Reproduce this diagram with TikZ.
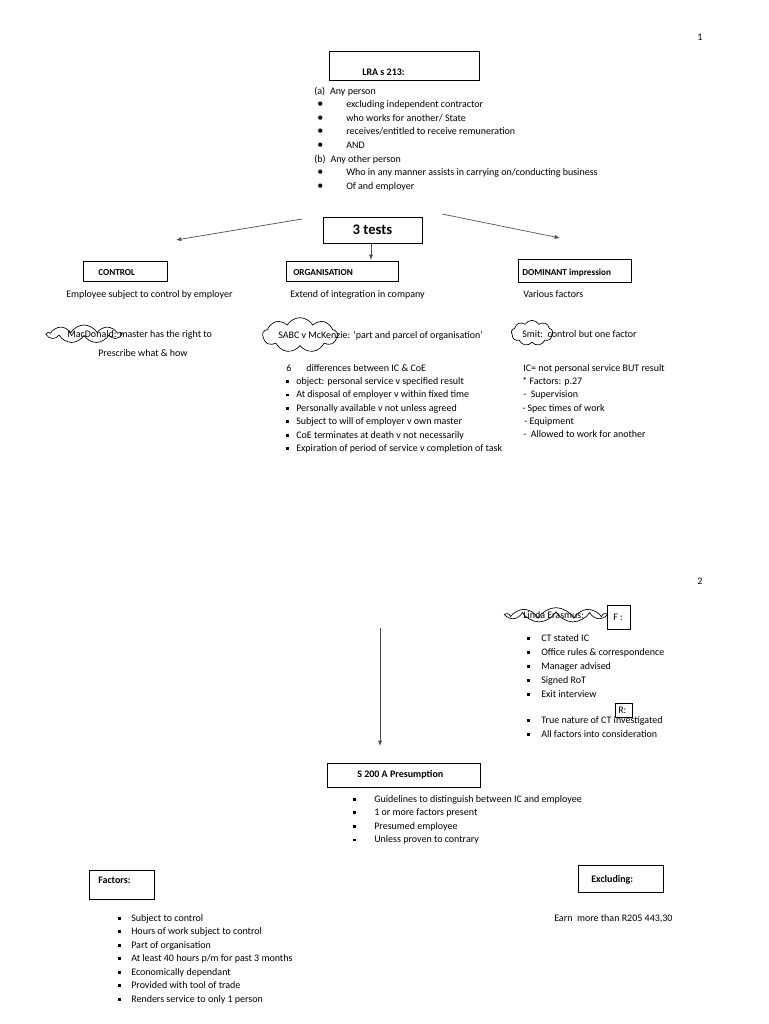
\documentclass[tikz,border=0pt]{standalone}
\usepackage{fontspec}
\setmainfont{Carlito}
\usetikzlibrary{shapes.symbols,arrows.meta}
\newcommand\sqbul{\rule[1.1pt]{2.1pt}{2.1pt}}
\begin{document}
\begin{tikzpicture}[x=0.75pt,y=-0.75pt,
  font=\fontsize{7.5}{9}\selectfont,
  txt/.style={anchor=base west, inner sep=0pt},
  hbox/.style={draw, line width=0.6pt, inner sep=0pt},
  arr/.style={draw=black!70, line width=0.5pt, -{Latex[length=4pt,width=3pt]}},
  cl/.style={cloud, draw, cloud puffs=9, cloud puff arc=120, cloud ignores aspect, inner sep=0pt, line width=0.5pt}
]
\useasboundingbox (0,0) rectangle (768,1024);
% page numbers
\node[txt] (p1) at (697,41) {1};
\node[txt] (p2) at (697,584) {2};

% LRA box
\node[hbox, minimum width=112.5pt, minimum height=21.75pt] (lra) at (404,65.5) {};
\node[txt, font=\fontsize{7.5}{9}\selectfont\bfseries] (lrat) at (362,75) {LRA s 213:};
\node[txt] (la) at (314,94) {(a)\enspace Any person};
\foreach \t [count=\i] in {excluding independent contractor, who works for another/ State, receives/entitled to receive remuneration, AND}{
  \node[txt, font=\fontsize{9}{9}\selectfont] (lb\i) at (317,94+13.5*\i) {•};
  \node[txt] (lt\i) at (346,94+13.5*\i) {\t};
}
\node[txt] (lbb) at (314,162) {(b)\enspace Any other person};
\foreach \t [count=\i] in {Who in any manner assists in carrying on/conducting business, Of and employer}{
  \node[txt, font=\fontsize{9}{9}\selectfont] (lc\i) at (317,162+13.5*\i) {•};
  \node[txt] (lct\i) at (346,162+13.5*\i) {\t};
}

% 3 tests
\node[hbox, minimum width=74.25pt, minimum height=19.5pt, font=\fontsize{11}{13}\selectfont\bfseries] (tests) at (372.5,230) {3 tests};
\coordinate (la1) at (302,219);
\coordinate (la2) at (176,240);
\coordinate (ra1) at (442,214);
\coordinate (ra2) at (560,238);
\draw[arr] (la1) -- (la2);
\draw[arr] (ra1) -- (ra2);

% test boxes
\node[hbox, minimum width=63pt, minimum height=15pt] (ctrl) at (125,271) {};
\node[txt, font=\fontsize{6.9}{9}\selectfont\bfseries] (ctrlt) at (98,275) {CONTROL};
\node[hbox, minimum width=84pt, minimum height=15pt] (org) at (342,271) {};
\node[txt, font=\fontsize{6.9}{9}\selectfont\bfseries] (orgt) at (293,275) {ORGANISATION};
\node[hbox, minimum width=84.75pt, minimum height=17.25pt] (dom) at (574.5,270.5) {};
\node[txt, font=\fontsize{6.9}{9}\selectfont\bfseries] (domt) at (522,275) {DOMINANT impression};
\coordinate (ca) at (371,243.5);
\coordinate (cb) at (371,260);
\draw[arr] (ca) -- (cb);

\node[txt] (e1) at (66,297) {Employee subject to control by employer};
\node[txt] (e2) at (290,297) {Extend of integration in company};
\node[txt] (e3) at (523,297) {Various factors};

% clouds line
\node[txt] (mac) at (67,337) {MacDonald: master has the right to};
\node[cl, minimum width=55pt, minimum height=13.5pt] (macc) at (84,334) {};
\node[txt] (pres) at (98,356) {Prescribe what \& how};
\node[txt] (sabc) at (278,338) {SABC v McKenzie: ‘part and parcel of organisation’};
\node[cl, minimum width=56pt, minimum height=26pt] (sabcc) at (300,335) {};
\node[txt] (smit) at (522,337) {Smit:\ \ control but one factor};
\node[cl, minimum width=31pt, minimum height=19pt] (smitc) at (532,333) {};

% middle list
\node[txt] (six) at (286,371) {6};
\node[txt] (sixt) at (306,371) {differences between IC \& CoE};
\foreach \t [count=\i] in {object: personal service v specified result, At disposal of employer v within fixed time, Personally available v not unless agreed, Subject to will of employer v own master, CoE terminates at death v not necessarily, Expiration of period of service v completion of task}{
  \node[txt] (mb\i) at (286,371+13.4*\i) {\sqbul};
  \node[txt] (mt\i) at (296,371+13.4*\i) {\t};
}
% right list
\node[txt] (r1) at (523,371) {IC= not personal service BUT result};
\node[txt] (r2) at (522,384) {* Factors: p.27};
\node[txt] (r3) at (523,397) {-\ \ Supervision};
\node[txt] (r4) at (522,411) {- Spec times of work};
\node[txt] (r5) at (524,424) {- Equipment};
\node[txt] (r6) at (523,437) {-\ \ Allowed to work for another};

% page 2
\node[txt] (linda) at (523,618) {Linda Erasmus:};
\node[cl, minimum width=73pt, minimum height=11pt] (lindac) at (556,615) {};
\node[hbox, minimum width=17.25pt, minimum height=18pt] (fbox) at (618.5,617) {};
\node[txt] (ft) at (613,620) {F :};
\foreach \t [count=\i] in {CT stated IC, Office rules \& correspondence, Manager advised, Signed RoT, Exit interview}{
  \node[txt] (fb\i) at (527,627+14*\i) {\sqbul};
  \node[txt] (ftt\i) at (541,627+14*\i) {\t};
}
\node[hbox, minimum width=12.75pt, minimum height=10.5pt] (rbox) at (623.5,710) {};
\node[txt] (rt) at (618,713) {R:};
\foreach \t [count=\i] in {True nature of CT investigated, All factors into consideration}{
  \node[txt] (gb\i) at (527,709+14*\i) {\sqbul};
  \node[txt] (gt\i) at (541,709+14*\i) {\t};
}
\coordinate (va) at (380,628);
\coordinate (vb) at (380,746);
\draw[arr] (va) -- (vb);

\node[hbox, minimum width=114.75pt, minimum height=18pt] (s200) at (403.5,775) {};
\node[txt, font=\fontsize{7.5}{9}\selectfont\bfseries] (s200t) at (357,777) {S 200 A Presumption};
\foreach \t [count=\i] in {Guidelines to distinguish between IC and employee, 1 or more factors present, Presumed employee, Unless proven to contrary}{
  \node[txt] (sb\i) at (353,788.5+13.6*\i) {\sqbul};
  \node[txt] (st\i) at (374,788.5+13.6*\i) {\t};
}

\node[hbox, minimum width=48.75pt, minimum height=21.75pt] (fac) at (121.5,884.5) {};
\node[txt, font=\fontsize{7.5}{9}\selectfont\bfseries] (fact) at (98,883) {Factors:};
\foreach \t [count=\i] in {Subject to control, Hours of work subject to control, Part of organisation, At least 40 hours p/m for past 3 months, Economically dependant, Provided with tool of trade, Renders service to only 1 person}{
  \node[txt] (kb\i) at (118,907.5+13.5*\i) {\sqbul};
  \node[txt] (kt\i) at (131,907.5+13.5*\i) {\t};
}
\node[hbox, minimum width=63.75pt, minimum height=20.25pt] (exc) at (620.5,878.5) {};
\node[txt, font=\fontsize{7.5}{9}\selectfont\bfseries] (exct) at (591,882) {Excluding:};
\node[txt] (earn) at (554,921) {Earn\ \ more than R205 443,30};
\end{tikzpicture}
\end{document}
